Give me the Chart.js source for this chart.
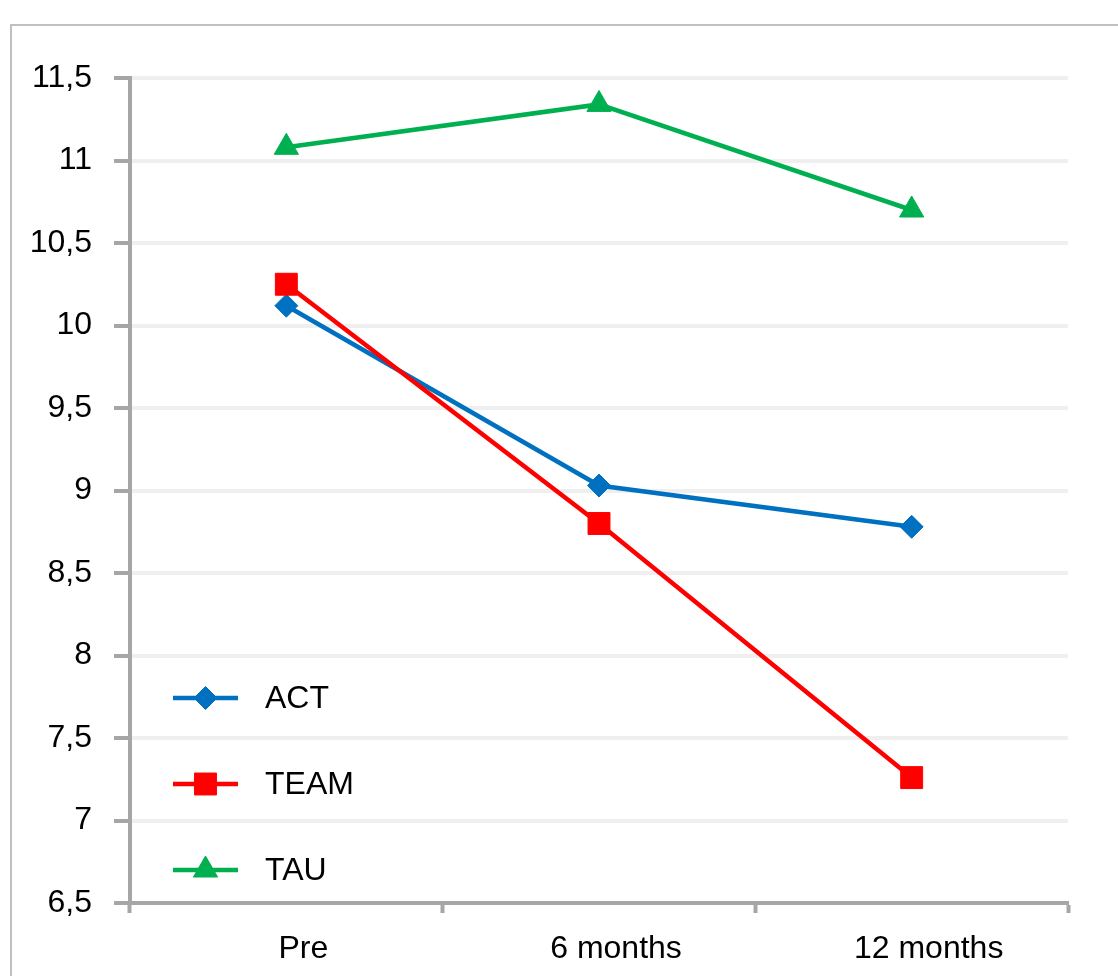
<!DOCTYPE html>
<html>
<head>
<meta charset="utf-8">
<script src="https://cdn.jsdelivr.net/npm/chart.js@4"></script>
<style>
  html, body { margin:0; padding:0; background:#fff; overflow:hidden; }
  #frame { position:absolute; left:10px; top:24px; width:1200px; height:1000px; border:2px solid #c0c0c0; }
  #wrap  { position:absolute; left:0; top:0; width:1118px; height:976px; }
</style>
</head>
<body>
<div id="frame"></div>
<div id="wrap"><canvas id="chart" width="1118" height="976"></canvas></div>
<script>
/* ---- data ---- */
const labels     = ["Pre", "6 months", "12 months"];
const actValues  = [10.12, 9.03, 8.78];
const teamValues = [10.25, 8.80, 7.26];
const tauValues  = [11.08, 11.34, 10.70];
const yMin = 6.5, yMax = 11.5, yStep = 0.5;

const FONT = "'Liberation Sans', Arial, sans-serif";
const AXIS_GRAY = "#a6a6a6";

// legend drawn inside the plot, bottom-left (like the Excel original)
const innerLegend = {
  id: "innerLegend",
  afterDraw(chart) {
    const ctx = chart.ctx;
    const area = chart.chartArea;
    const x0 = area.left + 43, x1 = area.left + 108;
    const rows = [698, 784, 870];
    ctx.save();
    chart.data.datasets.forEach((ds, i) => {
      const y = rows[i];
      ctx.strokeStyle = ds.borderColor;
      ctx.lineWidth = ds.borderWidth;
      ctx.beginPath();
      ctx.moveTo(x0, y);
      ctx.lineTo(x1, y);
      ctx.stroke();
      ctx.fillStyle = ds.pointBackgroundColor;
      ctx.strokeStyle = ds.pointBorderColor;
      ctx.lineWidth = 1;
      Chart.helpers.drawPoint(ctx, {
        pointStyle: ds.pointStyle, radius: ds.pointRadius, rotation: 0, borderWidth: 1
      }, (x0 + x1) / 2, y);
      ctx.fillStyle = "#000";
      ctx.font = "32px " + FONT;
      ctx.textBaseline = "middle";
      ctx.textAlign = "left";
      ctx.fillText(ds.label, area.left + 135, y + 1);
    });
    ctx.restore();
  }
};

function series(label, data, color, style, r, order) {
  return {
    label, data, order,
    borderColor: color, backgroundColor: color,
    borderWidth: 4.5, tension: 0,
    pointStyle: style, pointRadius: r, pointHoverRadius: r,
    pointBackgroundColor: color, pointBorderColor: color, pointBorderWidth: 1
  };
}

new Chart(document.getElementById("chart"), {
  type: "line",
  data: {
    labels,
    datasets: [
      series("ACT",  actValues,  "#0070c0", "rectRot",  11.5, 3),
      series("TEAM", teamValues, "#ff0000", "rect",     15.5, 2),
      series("TAU",  tauValues,  "#00b050", "triangle", 14,   1)
    ]
  },
  options: {
    responsive: false,
    animation: false,
    devicePixelRatio: 1,
    layout: { padding: { left: 0, top: 78, right: 50, bottom: 0 } },
    plugins: { legend: { display: false }, tooltip: { enabled: false } },
    scales: {
      x: {
        offset: true,
        afterFit(s) { s.height = 73; },
        grid: { offset: true, drawOnChartArea: false, drawTicks: true, tickLength: 10,
                tickColor: AXIS_GRAY, tickWidth: 4 },
        border: { color: AXIS_GRAY, width: 4 },
        ticks: { color: "#000", font: { family: FONT, size: 32 }, padding: 17, labelOffset: 17,
                 maxRotation: 0 }
      },
      y: {
        min: yMin, max: yMax,
        afterFit(s) { s.width = 130; },
        grid: { color: "#efefef", lineWidth: 4, tickLength: 16, tickColor: AXIS_GRAY, tickWidth: 4 },
        border: { color: AXIS_GRAY, width: 4 },
        ticks: {
          stepSize: yStep, color: "#000", padding: 22,
          font: { family: FONT, size: 32 },
          callback: v => (Math.round(v * 10) / 10).toString().replace(".", ",")
        }
      }
    }
  },
  plugins: [innerLegend]
});
</script>
</body>
</html>
